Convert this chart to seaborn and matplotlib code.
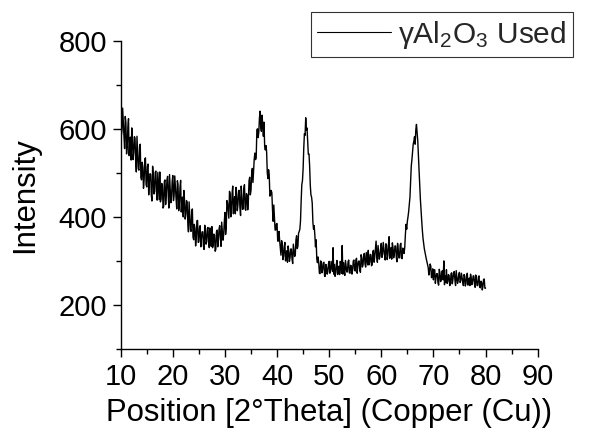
import numpy as np
import pandas as pd
import matplotlib
matplotlib.use("Agg")
import matplotlib.pyplot as plt
from matplotlib.ticker import MultipleLocator
import seaborn as sns

# Diffraction scan of the used gamma-alumina sample, 0.125 deg steps from 10 to 80 deg
two_theta = np.arange(10.0, 80.0 + 0.001, 0.125)

intensity = [
    # 10.0 - 12.5
    720, 585, 597, 647, 614, 584, 555, 628, 614, 543,
    558, 603, 623, 539, 572, 581, 529, 602, 578, 530,
    # 12.5 - 15.0
    546, 582, 579, 527, 502, 583, 548, 509, 506, 560,
    565, 490, 484, 524, 512, 465, 484, 531, 534, 473,
    # 15.0 - 17.5
    468, 514, 520, 450, 480, 498, 496, 450, 436, 515,
    497, 452, 458, 501, 504, 455, 438, 501, 472, 439,
    # 17.5 - 20.0
    502, 434, 441, 476, 472, 420, 424, 480, 484, 428,
    452, 484, 492, 448, 420, 496, 464, 432, 444, 480,
    # 20.0 - 22.5
    494, 437, 449, 493, 466, 442, 418, 482, 474, 414,
    427, 466, 483, 411, 438, 445, 400, 460, 437, 395,
    # 22.5 - 25.0
    406, 437, 433, 388, 366, 434, 404, 371, 367, 413,
    418, 354, 348, 383, 374, 334, 351, 391, 392, 342,
    # 25.0 - 27.5
    343, 376, 380, 332, 353, 366, 366, 334, 326, 381,
    370, 338, 344, 373, 376, 342, 330, 375, 356, 333,
    # 27.5 - 30.0
    378, 330, 336, 361, 358, 322, 326, 366, 370, 332,
    349, 373, 380, 351, 333, 388, 368, 347, 359, 388,
    # 30.0 - 32.5
    410, 360, 374, 437, 432, 414, 397, 458, 453, 400,
    414, 453, 470, 407, 435, 446, 407, 467, 449, 414,
    # 32.5 - 35.0
    428, 460, 460, 421, 403, 470, 446, 417, 418, 465,
    473, 418, 415, 453, 449, 416, 438, 482, 490, 450,
    # 35.0 - 37.5
    460, 497, 510, 478, 507, 532, 545, 530, 535, 597,
    600, 580, 592, 625, 640, 603, 594, 631, 610, 583,
    # 37.5 - 40.0
    615, 560, 552, 562, 548, 500, 487, 507, 495, 447,
    450, 460, 455, 417, 390, 427, 398, 370, 370, 384,
    # 40.0 - 42.5
    385, 345, 345, 367, 346, 329, 313, 346, 339, 303,
    310, 332, 342, 300, 317, 323, 297, 334, 322, 299,
    # 42.5 - 45.0
    308, 327, 327, 304, 294, 338, 325, 310, 314, 348,
    357, 328, 333, 363, 367, 372, 391, 436, 473, 482,
    # 45.0 - 47.5
    509, 556, 589, 585, 625, 597, 602, 570, 542, 543,
    516, 472, 450, 445, 431, 388, 372, 380, 359, 332,
    # 47.5 - 50.0
    348, 304, 296, 309, 295, 272, 271, 300, 296, 273,
    280, 296, 297, 265, 265, 292, 285, 270, 276, 294,
    # 50.0 - 52.5
    299, 272, 278, 299, 287, 276, 330, 270, 292, 265,
    272, 292, 301, 269, 283, 288, 269, 299, 290, 272,
    # 52.5 - 55.0
    335, 270, 296, 276, 267, 301, 288, 275, 275, 298,
    302, 273, 272, 290, 288, 270, 280, 300, 302, 279,
    # 55.0 - 57.5
    277, 302, 306, 272, 289, 299, 300, 279, 274, 314,
    307, 286, 291, 314, 317, 293, 286, 319, 306, 291,
    # 57.5 - 60.0
    324, 291, 296, 315, 314, 289, 292, 321, 324, 297,
    310, 327, 345, 310, 297, 335, 320, 304, 311, 329,
    # 60.0 - 62.5
    340, 308, 315, 342, 327, 314, 302, 339, 336, 303,
    312, 336, 355, 306, 323, 330, 304, 341, 330, 307,
    # 62.5 - 65.0
    316, 334, 334, 309, 298, 340, 325, 307, 307, 336,
    340, 306, 305, 329, 327, 317, 331, 360, 383, 372,
    # 65.0 - 67.5
    390, 400, 412, 428, 445, 480, 515, 530, 548, 565,
    572, 582, 565, 598, 610, 590, 572, 540, 505, 470,
    # 67.5 - 70.0
    440, 415, 392, 370, 352, 340, 328, 320, 312, 305,
    298, 292, 285, 268, 278, 293, 288, 262, 265, 282,
    # 70.0 - 72.5
    257, 278, 280, 249, 263, 271, 271, 250, 245, 281,
    273, 253, 257, 276, 278, 257, 300, 246, 266, 251,
    # 72.5 - 75.0
    280, 249, 253, 269, 267, 244, 246, 271, 273, 248,
    258, 273, 276, 257, 244, 278, 264, 249, 255, 270,
    # 75.0 - 77.5
    274, 251, 255, 272, 262, 253, 244, 269, 266, 243,
    249, 265, 272, 245, 257, 261, 244, 270, 262, 246,
    # 77.5 - 80.0
    252, 266, 266, 248, 240, 268, 258, 244, 244, 263,
    266, 241, 239, 254, 251, 234, 242, 258, 259, 238,
    238,
]

series_label = "γAl$_2$O$_3$ Used"
x_ticks = [10, 20, 30, 40, 50, 60, 70, 80, 90]
y_ticks = [200, 400, 600, 800]

df = pd.DataFrame({"two_theta": two_theta, "intensity": intensity})

sns.set_theme(style="ticks")
plt.rcParams["font.family"] = ["Liberation Sans", "DejaVu Sans"]
plt.rcParams["mathtext.fontset"] = "custom"
plt.rcParams["mathtext.rm"] = "Liberation Sans"
plt.rcParams["mathtext.it"] = "Liberation Sans:italic"
plt.rcParams["mathtext.default"] = "regular"

tick_fs = 21
label_fs = 22.4
legend_fs = 21.5

fig = plt.figure(figsize=(5.96, 4.29), dpi=100)
ax = fig.add_axes([0.2025, 0.1865, 0.6996, 0.7186])

sns.lineplot(data=df, x="two_theta", y="intensity", ax=ax, color="black",
             linewidth=1.0, estimator=None, sort=False, label=series_label)

ax.set_xlim(10, 90)
ax.set_ylim(100, 800)
ax.set_xticks(x_ticks)
ax.set_yticks(y_ticks)
ax.xaxis.set_minor_locator(MultipleLocator(5))
ax.yaxis.set_minor_locator(MultipleLocator(100))
ax.tick_params(which="major", direction="out", length=6, width=1,
               labelsize=tick_fs, colors="black", pad=4)
ax.tick_params(which="minor", direction="out", length=3.5, width=1, colors="black")

for side in ("top", "right"):
    ax.spines[side].set_visible(False)
for side in ("left", "bottom"):
    ax.spines[side].set_color("black")
    ax.spines[side].set_linewidth(1)

ax.set_xlabel("Position [2°Theta] (Copper (Cu))", fontsize=label_fs,
              color="black", labelpad=5)
ax.set_ylabel("Intensity", fontsize=label_fs, color="black", labelpad=13)

leg = ax.legend(loc="upper right", bbox_to_anchor=(573 / 596, 1 - 12 / 429),
                bbox_transform=fig.transFigure, borderaxespad=0, fontsize=legend_fs,
                frameon=True, fancybox=False, edgecolor="black", handlelength=2.45,
                handletextpad=0.25, borderpad=0.22)
leg.get_frame().set_linewidth(0.8)
for line in leg.get_lines():
    line.set_linewidth(0.8)

fig.savefig("out.png", dpi=100, facecolor="white")
